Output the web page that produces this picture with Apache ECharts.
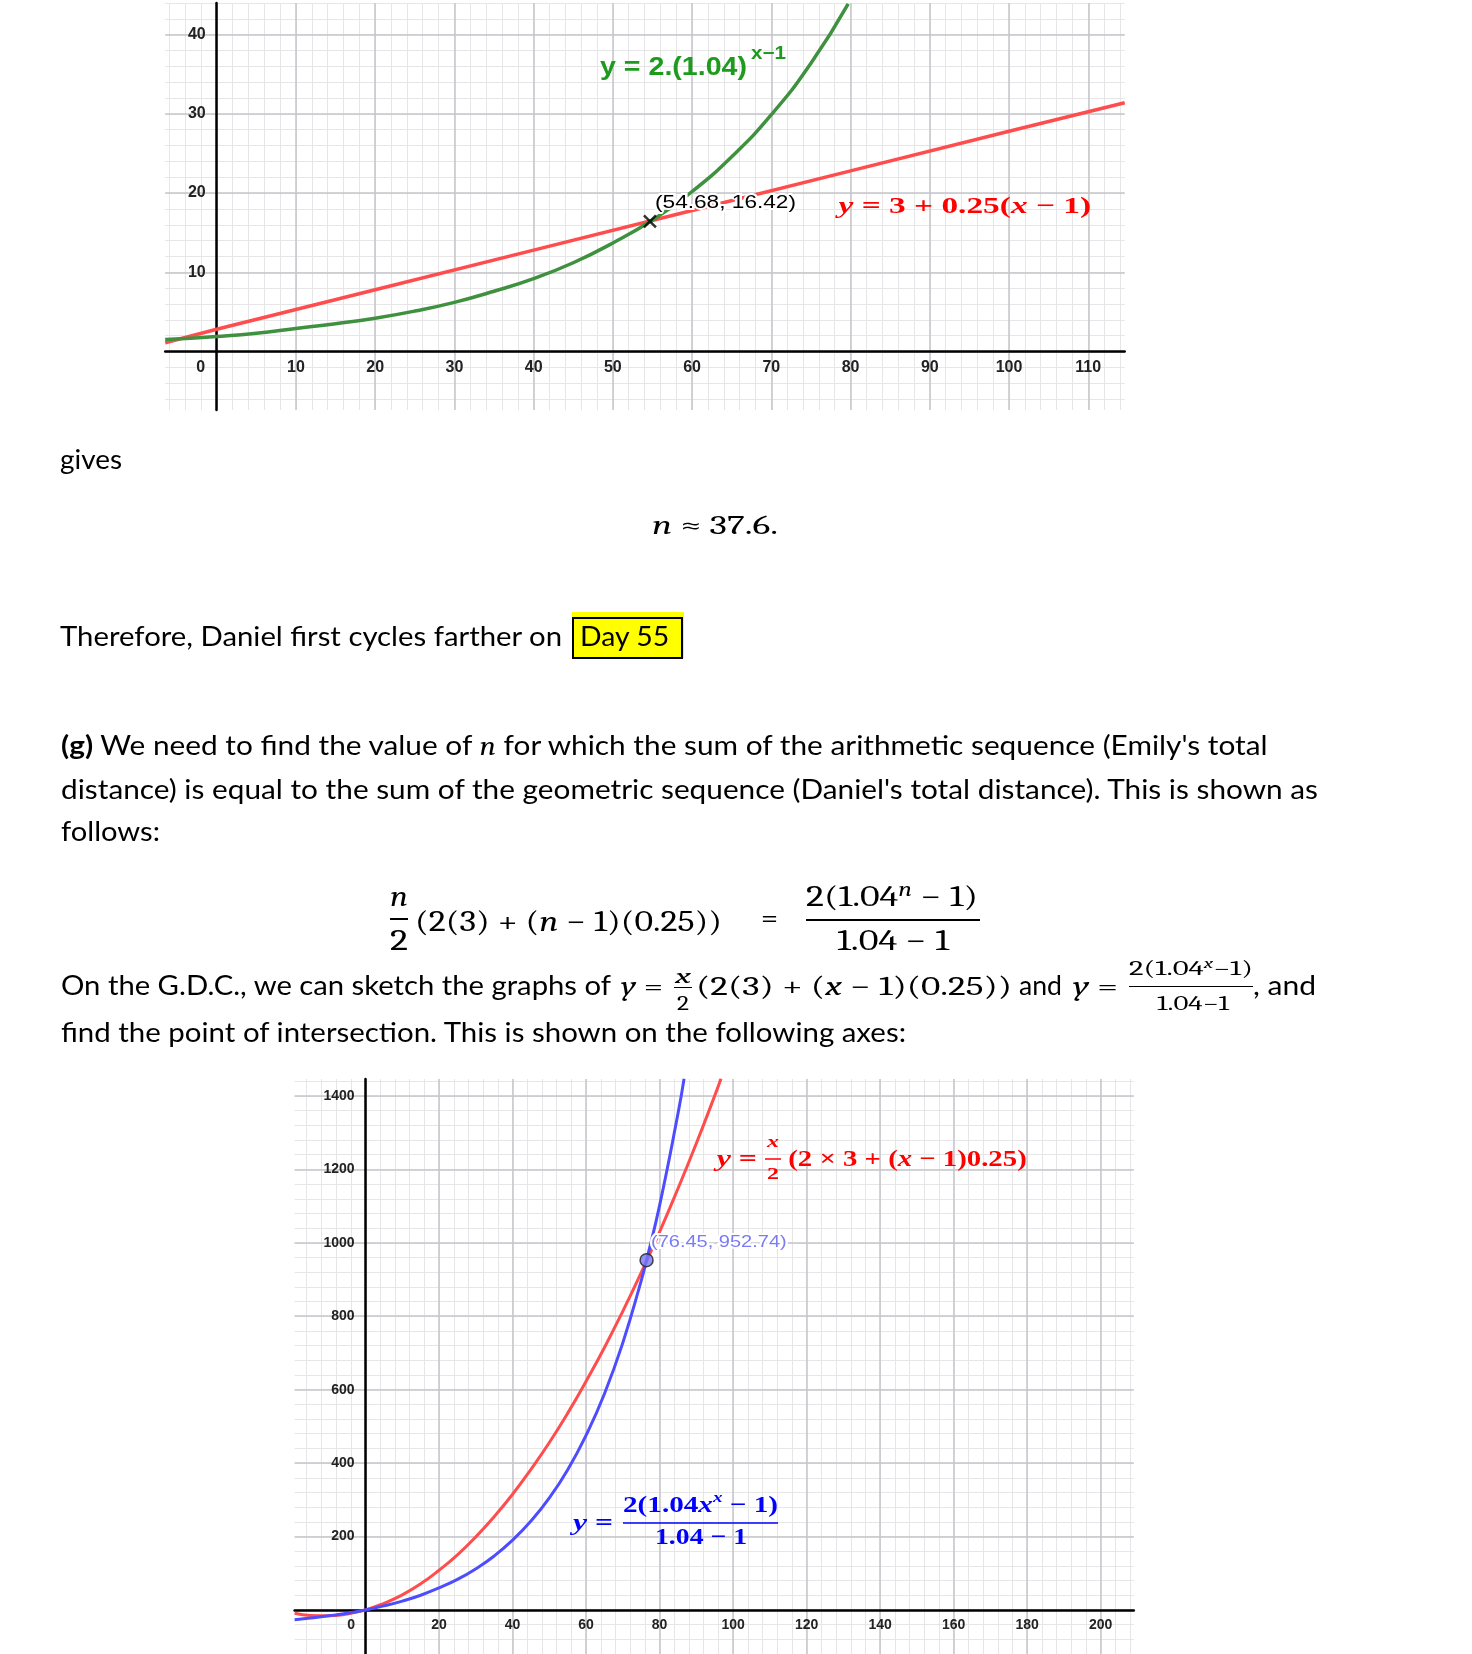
<!DOCTYPE html>
<html>
<head>
<meta charset="utf-8">
<title>Emily and Daniel</title>
<script src="https://cdn.jsdelivr.net/npm/echarts@6/dist/echarts.min.js"></script>
<style>
  html, body { margin: 0; padding: 0; background: #fff; }
  #page { position: relative; width: 1472px; height: 1654px; overflow: hidden; }
  #chart { position: absolute; left: 0; top: 0; width: 1472px; height: 1654px; }
  .txt { position: absolute; white-space: nowrap; transform-origin: 0 0; font-family: Lato, 'Open Sans', sans-serif; font-size: 27px; color: #000; line-height: 1.2; }
  .math { font-family: 'Cambria Math', Cambria, 'Liberation Serif', serif; font-size: 28px; }
  .it { font-style: italic; }
  .probe { display: inline-block; width: 0; height: 0; vertical-align: baseline; }
  .rect { position: absolute; box-sizing: border-box; }
  sup { font-size: 0.68em; vertical-align: 0.5em; line-height: 0; }
</style>
</head>
<body>
<div id="page">
  <div id="chart"></div>

  <div class="rect" data-rect="571.7,611.7,112.5,46.6" style="background:#ffff00"></div>
  <div class="rect" data-rect="571.7,617,111,41.5" style="border:2px solid #000"></div>

  <div class="txt" data-pos="60,469,122">gives</div>
  <div class="txt math" style="font-size:27px" data-pos="652,534,778"><i>n</i> ≈ 37.6.</div>
  <div class="txt" data-pos="60.4,646,562.5">Therefore, Daniel first cycles farther on</div>
  <div class="txt" data-pos="579.5,646,668.7">Day 55</div>

  <div class="txt" data-pos="61.4,755,1268"><b>(g)</b> We need to find the value of <span class="math it">n</span> for which the sum of the arithmetic sequence (Emily's total</div>
  <div class="txt" data-pos="61,799,1318">distance) is equal to the sum of the geometric sequence (Daniel's total distance). This is shown as</div>
  <div class="txt" data-pos="61,841,160">follows:</div>

  <div class="txt math it" style="font-size:30px" data-pos="390,906,408">n</div>
  <div class="rect" data-rect="390,918,18,1.5" style="background:#000"></div>
  <div class="txt math" style="font-size:30px" data-pos="390,950,408">2</div>
  <div class="txt math" style="font-size:30px" data-pos="415,931,722">(2(3) + (<i>n</i> − 1)(0.25))</div>
  <div class="txt math" style="font-size:30px" data-pos="761,928,778">=</div>
  <div class="txt math" style="font-size:30px" data-pos="806,906,978">2(1.04<sup><i>n</i></sup> − 1)</div>
  <div class="rect" data-rect="806,919,174,2" style="background:#000"></div>
  <div class="txt math" style="font-size:30px" data-pos="837,950,949">1.04 − 1</div>

  <div class="txt" data-pos="61,995,611">On the G.D.C., we can sketch the graphs of</div>
  <div class="txt math" data-pos="621,995,663"><i>y</i> =</div>
  <div class="txt math it" style="font-size:20px" data-pos="675,983,691">x</div>
  <div class="rect" data-rect="674,987,18,1.2" style="background:#000"></div>
  <div class="txt math" style="font-size:20px" data-pos="677,1010,689">2</div>
  <div class="txt math" data-pos="696,995,1012">(2(3) + (<i>x</i> − 1)(0.25))</div>
  <div class="txt" data-pos="1019,995,1062">and</div>
  <div class="txt math" data-pos="1073,995,1118"><i>y</i> =</div>
  <div class="txt math" style="font-size:20px" data-pos="1129,975,1253">2(1.04<sup><i>x</i></sup>−1)</div>
  <div class="rect" data-rect="1129,986,124,1.2" style="background:#000"></div>
  <div class="txt math" style="font-size:20px" data-pos="1157,1010,1229">1.04−1</div>
  <div class="txt" data-pos="1253,995,1316">, and</div>
  <div class="txt" data-pos="61,1042,906">find the point of intersection. This is shown on the following axes:</div>
</div>

<script>
// top chart: daily distance on day x
const xMajor1 = [0, 10, 20, 30, 40, 50, 60, 70, 80, 90, 100, 110];
const xLabels1 = [0, 10, 20, 30, 40, 50, 60, 70, 80, 90, 100, 110];
const yMajor1 = [0, 10, 20, 30, 40];
const yLabels1 = [10, 20, 30, 40];
// Emily (arithmetic) y = 3 + 0.25(x - 1)
const emilyX = [-6.5, 0, 20, 40, 60, 80, 100, 114.6];
const emilyY = [1.1, 2.8, 7.8, 12.8, 17.8, 22.8, 27.8, 31.4];
// Daniel (geometric) y = 2(1.04)^(x-1)
const danielX = [-6.5, 0, 5, 10, 15, 20, 25, 30, 35, 40, 45, 50, 55, 60, 65, 70, 75, 79.7];
const danielY = [1.5, 1.9, 2.3, 2.9, 3.5, 4.2, 5.1, 6.2, 7.6, 9.2, 11.2, 13.7, 16.6, 20.2, 24.6, 29.9, 36.4, 43.9];
const meet1 = [54.68, 16.42];

// bottom chart: total distance after x days
const xMajor2 = [0, 20, 40, 60, 80, 100, 120, 140, 160, 180, 200];
const xLabels2 = [0, 20, 40, 60, 80, 100, 120, 140, 160, 180, 200];
const yMajor2 = [0, 200, 400, 600, 800, 1000, 1200, 1400];
const yLabels2 = [200, 400, 600, 800, 1000, 1200, 1400];
const sumX = [-19.3, -15, -10, -5, 0, 5, 10, 15, 20, 25, 30, 35, 40, 45, 50, 55, 60, 65, 70, 75, 80, 85, 90, 95, 96.7];
const emilySum = [-9, -15, -16, -11, 0, 18, 41, 71, 108, 150, 199, 254, 315, 383, 456, 536, 623, 715, 814, 919, 1030, 1148, 1271, 1401, 1447];
const geoX = [-19.3, -15, -10, -5, 0, 5, 10, 15, 20, 25, 30, 35, 40, 45, 50, 55, 60, 65, 70, 75, 76.45, 80, 85, 86.65];
const danielSum = [-27, -22, -16, -9, 0, 11, 24, 40, 60, 83, 112, 147, 190, 242, 305, 382, 476, 589, 728, 897, 953, 1102, 1352, 1447];
const meet2 = [76.45, 952.74];

function steps(a, b, s) { const out = []; for (let v = a; v <= b + 1e-9; v += s) out.push(v); return out; }
const zip = (xs, ys) => xs.map((x, i) => [x, ys[i]]);

const MAJOR = '#c4c4cb', MINOR = '#e6e6e8';
const labelFont = { fontFamily: 'Liberation Sans', fontWeight: 'bold', color: '#222' };

const grids = [
  { left: 165.2, top: 3, width: 959.5, height: 407, outerBoundsMode: 'none' },
  { left: 294.6, top: 1079, width: 839.2, height: 575, outerBoundsMode: 'none' }
];

function axis(dim, gridIndex, range, major, labels, minor, size, zeroPad, offset) {
  const minorAxis = {
    type: 'value', gridIndex, min: range[0], max: range[1], z: 0,
    position: dim === 'x' ? 'top' : 'right',
    axisLine: { show: false }, axisLabel: { show: false },
    axisTick: { show: false, customValues: minor },
    splitLine: { show: true, lineStyle: { color: MINOR, width: 1 } }
  };
  const majorAxis = {
    type: 'value', gridIndex, min: range[0], max: range[1], z: 1,
    position: dim === 'x' ? 'bottom' : 'left',
    offset: offset,
    axisLine: { onZero: false, lineStyle: { color: '#000', width: 2.5 } },
    axisTick: { show: false, customValues: major },
    axisLabel: Object.assign({
      customValues: labels, fontSize: size, margin: dim === 'x' ? 8 : 11,
      formatter: v => (v === 0 ? '{o|0}' : String(v)),
      rich: { o: Object.assign({ fontSize: size, padding: [0, zeroPad, 0, 0] }, labelFont) }
    }, labelFont),
    splitLine: { show: true, lineStyle: { color: MAJOR, width: 1.5 } }
  };
  return [minorAxis, majorAxis];
}
// axes sit on the zero lines, like a graphing calculator
function axesFor(gi, xr, yr, xs, ys) {
  const g = grids[gi];
  const zeroFromBottom = (0 - yr[0]) / (yr[1] - yr[0]) * g.height;
  const zeroFromLeft = (0 - xr[0]) / (xr[1] - xr[0]) * g.width;
  return {
    x: axis('x', gi, xr, xs.major, xs.labels, xs.minor, xs.size, xs.pad, -zeroFromBottom),
    y: axis('y', gi, yr, ys.major, ys.labels, ys.minor, ys.size, 0, -zeroFromLeft)
  };
}

const measure = document.createElement('canvas').getContext('2d');
// parts: [text, font, dy]; stretched so the run spans left..right
function formula(parts, left, cy, right, color, halo) {
  const widths = parts.map(p => { measure.font = p[1]; return measure.measureText(p[0]).width; });
  const s = (right - left) / widths.reduce((a, b) => a + b, 0);
  const out = [];
  let x = left;
  parts.forEach((p, i) => {
    const base = { type: 'text', x: x, y: cy + (p[2] || 0), scaleX: s, z: 20 };
    const st = { text: p[0], font: p[1], align: 'left', textAlign: 'left', verticalAlign: 'middle', textVerticalAlign: 'middle' };
    if (halo) out.push(Object.assign({}, base, { z: 19, style: Object.assign({}, st, { fill: '#fff', stroke: '#fff', lineWidth: 4 }) }));
    out.push(Object.assign({}, base, { style: Object.assign({}, st, { fill: color }) }));
    x += widths[i] * s;
  });
  return out;
}
const hline = (x1, x2, y, color) => ({ type: 'line', z: 20, shape: { x1, y1: y, x2, y2: y }, style: { stroke: color, lineWidth: 1.5 } });

const SB = 'bold 25px "Liberation Sans"';
const B = 'bold 23px "Liberation Serif"', BI = 'italic bold 23px "Liberation Serif"';
const b17 = 'bold 17px "Liberation Serif"', bi17 = 'italic bold 17px "Liberation Serif"';
const RED = '#ff0000', BLUE = '#0000ff';

const annotations = [].concat(
  formula([['y = 2.(1.04)', SB]], 600, 68, 747, '#1e9b1e'),
  formula([['x−1', 'bold 18px "Liberation Sans"']], 751, 54, 786, '#1e9b1e'),
  formula([['y', BI], [' = 3 + 0.25(', B], ['x', BI], [' − 1)', B]], 838.6, 207, 1091, RED),
  formula([['(54.68, 16.42)', '18px "Liberation Sans"']], 655, 203, 796, '#000', true),

  formula([['(76.45, 952.74)', '17px "Liberation Sans"']], 651, 1242, 786.7, '#7b7bf5', true),
  formula([['y', BI], [' =', B]], 716.7, 1160, 757, RED),
  formula([['x', bi17]], 767, 1143, 779, RED),
  [hline(765, 781, 1159, RED)],
  formula([['2', b17]], 767, 1175, 779, RED),
  formula([['(2 × 3 + (', B], ['x', BI], [' − 1)0.25)', B]], 788.3, 1160, 1026.7, RED),
  formula([['y', BI], [' =', B]], 573, 1524, 613, BLUE),
  formula([['2(1.04', B], ['x', BI], ['x', 'italic bold 15px "Liberation Serif"', -8], [' − 1)', B]], 623, 1506, 778, BLUE),
  [hline(623, 778, 1523, BLUE)],
  formula([['1.04 − 1', B]], 655, 1538, 747, BLUE)
);

const top1 = axesFor(0, [-6.5, 114.6], [-7.39, 44],
  { major: xMajor1, labels: xLabels1, minor: steps(-6, 114, 2), size: 16, pad: 32 },
  { major: yMajor1, labels: yLabels1, minor: steps(-6, 44, 2), size: 16 });
const bottom2 = axesFor(1, [-19.3, 209], [-120.1, 1446.2],
  { major: xMajor2, labels: xLabels2, minor: steps(-16, 208, 4), size: 14, pad: 29 },
  { major: yMajor2, labels: yLabels2, minor: steps(-80, 1440, 40), size: 14 });

const chart = echarts.init(document.getElementById('chart'));
chart.setOption({
  animation: false,
  backgroundColor: 'transparent',
  grid: grids,
  xAxis: [top1.x[0], top1.x[1], bottom2.x[0], bottom2.x[1]],
  yAxis: [top1.y[0], top1.y[1], bottom2.y[0], bottom2.y[1]],
  series: [
    { type: 'line', xAxisIndex: 1, yAxisIndex: 1, data: zip(emilyX, emilyY), showSymbol: false, z: 3,
      lineStyle: { color: '#ff4d4d', width: 3.5 } },
    { type: 'line', xAxisIndex: 1, yAxisIndex: 1, data: zip(danielX, danielY), showSymbol: false, smooth: true, z: 3,
      lineStyle: { color: '#3f913f', width: 3.5 } },
    { type: 'scatter', xAxisIndex: 1, yAxisIndex: 1, data: [meet1], z: 5,
      symbol: 'path://M0,0L10,10M10,0L0,10', symbolSize: 12,
      itemStyle: { color: 'none', borderColor: '#000', borderWidth: 2.5 } },
    { type: 'line', xAxisIndex: 3, yAxisIndex: 3, data: zip(sumX, emilySum), showSymbol: false, smooth: true, z: 3,
      lineStyle: { color: '#ff4d4d', width: 3 } },
    { type: 'line', xAxisIndex: 3, yAxisIndex: 3, data: zip(geoX, danielSum), showSymbol: false, smooth: true, z: 3,
      lineStyle: { color: '#4d4dff', width: 3 } },
    { type: 'scatter', xAxisIndex: 3, yAxisIndex: 3, data: [meet2], z: 5,
      symbol: 'circle', symbolSize: 13,
      itemStyle: { color: '#7878f5', borderColor: '#222', borderWidth: 1.5 } }
  ],
  graphic: { elements: annotations }
});

function layoutText() {
  document.querySelectorAll('[data-rect]').forEach(el => {
    const [l, t, w, h] = el.dataset.rect.split(',').map(Number);
    Object.assign(el.style, { left: l + 'px', top: t + 'px', width: w + 'px', height: h + 'px' });
  });
  document.querySelectorAll('[data-pos]').forEach(el => {
    const [left, base, right] = el.dataset.pos.split(',').map(Number);
    el.style.transform = 'none';
    el.style.left = left + 'px';
    el.style.top = '0px';
    let probe = el.querySelector('.probe');
    if (!probe) { probe = document.createElement('span'); probe.className = 'probe'; el.appendChild(probe); }
    el.style.top = (base - probe.offsetTop) + 'px';
    const w = el.getBoundingClientRect().width;
    el.style.transform = 'scaleX(' + ((right - left) / w) + ')';
  });
}
layoutText();
if (document.fonts) document.fonts.ready.then(layoutText);
</script>
</body>
</html>
